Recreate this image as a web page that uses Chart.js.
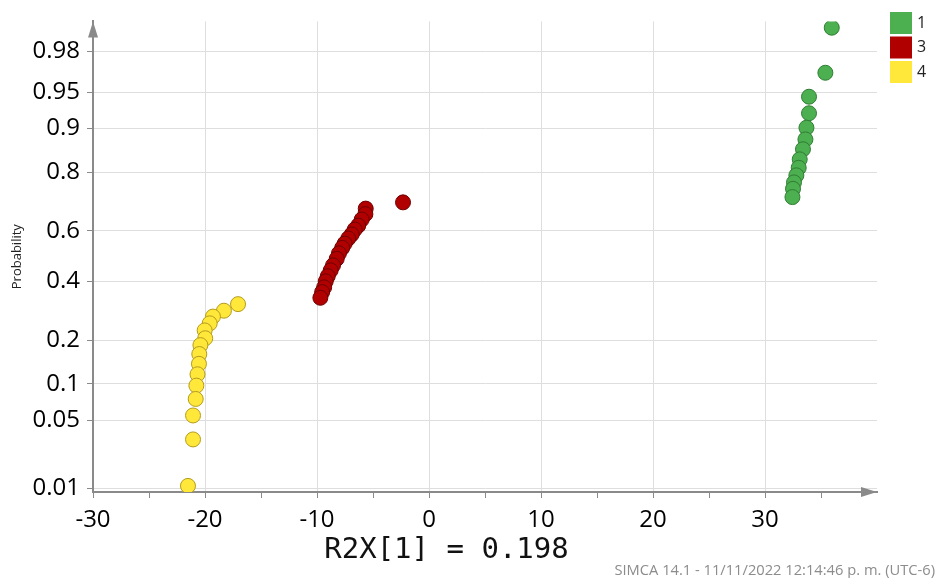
<!DOCTYPE html>
<html>
<head>
<meta charset="utf-8">
<script src="https://cdn.jsdelivr.net/npm/chart.js@4.4.1/dist/chart.umd.min.js"></script>
<style>
  body { margin: 0; background: #fff; }
  #wrap { width: 939px; height: 578px; }
</style>
</head>
<body>
<div id="wrap"><canvas id="probChart"></canvas></div>
<script>
// normal probability plot, groups 1 / 3 / 4
const groups = ['1', '3', '4'];

const xGroup1 = [35.96, 35.39, 33.93, 33.93, 33.70, 33.61, 33.39, 33.10, 33.01, 32.80, 32.59, 32.50, 32.45];
const pGroup1 = [0.989, 0.967, 0.945, 0.924, 0.901, 0.879, 0.858, 0.834, 0.812, 0.791, 0.770, 0.750, 0.723];

const xGroup3 = [-2.32, -5.65, -5.68, -6.01, -6.32, -6.63, -6.90, -7.21, -7.53, -7.75, -8.04, -8.24, -8.57, -8.78, -9.04, -9.22, -9.36, -9.54, -9.70];
const pGroup3 = [0.705, 0.683, 0.663, 0.643, 0.620, 0.605, 0.586, 0.570, 0.550, 0.533, 0.511, 0.489, 0.463, 0.443, 0.420, 0.400, 0.377, 0.359, 0.338];

const xGroup4 = [-17.05, -18.31, -19.29, -19.58, -20.03, -19.98, -20.41, -20.51, -20.54, -20.67, -20.77, -20.83, -21.07, -21.07, -21.52];
const pGroup4 = [0.315, 0.292, 0.272, 0.250, 0.228, 0.205, 0.186, 0.163, 0.140, 0.118, 0.097, 0.076, 0.055, 0.033, 0.0106];

const probTicks = [0.01, 0.05, 0.1, 0.2, 0.4, 0.6, 0.8, 0.9, 0.95, 0.98];
const probTickLabels = ['0.01', '0.05', '0.1', '0.2', '0.4', '0.6', '0.8', '0.9', '0.95', '0.98'];

const fillColors = ['#4caf50', '#b00000', '#ffe83a'];
const edgeColors = ['#2f7d32', '#6e0000', '#b39b1c'];

// inverse normal cdf (Acklam) - turns probabilities into the axis position
function probit(p) {
    const a = [-39.69683028665376, 220.9460984245205, -275.9285104469687, 138.3577518672690, -30.66479806614716, 2.506628277459239];
    const b = [-54.47609879822406, 161.5858368580409, -155.6989798598866, 66.80131188771720, -13.28068155288572];
    const c = [-0.007784894002430293, -0.3223964580411365, -2.400758277161838, -2.549732539343734, 4.374664141464968, 2.938163982698783];
    const d = [0.007784695709041462, 0.3224671290700398, 2.445134137142996, 3.754408661907416];
    const pl = 0.02425;
    if (p < pl) {
        const q = Math.sqrt(-2 * Math.log(p));
        return (((((c[0]*q + c[1])*q + c[2])*q + c[3])*q + c[4])*q + c[5]) / ((((d[0]*q + d[1])*q + d[2])*q + d[3])*q + 1);
    }
    if (p > 1 - pl) {
        const q = Math.sqrt(-2 * Math.log(1 - p));
        return -(((((c[0]*q + c[1])*q + c[2])*q + c[3])*q + c[4])*q + c[5]) / ((((d[0]*q + d[1])*q + d[2])*q + d[3])*q + 1);
    }
    const q = p - 0.5, r = q * q;
    return (((((a[0]*r + a[1])*r + a[2])*r + a[3])*r + a[4])*r + a[5])*q / (((((b[0]*r + b[1])*r + b[2])*r + b[3])*r + b[4])*r + 1);
}

function toPoints(xs, ps) {
    return xs.map((x, i) => ({x: x, y: probit(ps[i])}));
}

const xs = [xGroup1, xGroup3, xGroup4];
const ps = [pGroup1, pGroup3, pGroup4];

const datasets = groups.map((g, i) => ({
    label: g,
    data: toPoints(xs[i], ps[i]),
    backgroundColor: fillColors[i],
    borderColor: edgeColors[i],
    borderWidth: 1,
    pointRadius: 7.5,
    pointHoverRadius: 7.5
}));

// arrows on the axes, square legend at the right, SIMCA stamp
const extras = {
    id: 'extras',
    afterDraw(chart) {
        const c = chart.ctx;
        const area = chart.chartArea;
        c.save();
        c.fillStyle = '#8a8a8a';
        c.beginPath();
        c.moveTo(area.left, area.top);
        c.lineTo(area.left - 5, area.top + 16);
        c.lineTo(area.left + 5, area.top + 16);
        c.closePath();
        c.fill();
        c.beginPath();
        c.moveTo(area.right, area.bottom);
        c.lineTo(area.right - 16, area.bottom - 5);
        c.lineTo(area.right - 16, area.bottom + 5);
        c.closePath();
        c.fill();

        c.font = '16px "Open Sans"';
        c.textBaseline = 'middle';
        c.textAlign = 'left';
        chart.data.datasets.forEach((ds, i) => {
            const y = 12 + i * 24.5;
            c.fillStyle = ds.backgroundColor;
            c.fillRect(890, y, 22, 22);
            c.fillStyle = '#222';
            c.fillText(ds.label, 917, y + 11);
        });

        c.font = '14.7px "Open Sans"';
        c.fillStyle = '#8c8c8c';
        c.textAlign = 'right';
        c.textBaseline = 'alphabetic';
        c.fillText('SIMCA 14.1 - 11/11/2022 12:14:46 p. m. (UTC-6)', 935, 575);
        c.restore();
    }
};

const ctx = document.getElementById('probChart').getContext('2d');

new Chart(ctx, {
    type: 'scatter',
    data: { datasets: datasets },
    plugins: [extras],
    options: {
        responsive: true,
        maintainAspectRatio: false,
        animation: false,
        layout: {
            padding: { left: 16, right: 62, top: 20, bottom: 13 }
        },
        scales: {
            x: {
                type: 'linear',
                min: -30,
                max: 40,
                afterFit(scale) { scale.height = 44; },
                ticks: {
                    stepSize: 5,
                    color: '#000',
                    padding: 8,
                    font: { family: 'Open Sans', size: 24 },
                    callback: (v) => (v % 10 === 0 && v < 40) ? String(v) : ''
                },
                grid: {
                    color: (c) => (c.tick && c.tick.value % 10 === 0 && c.tick.value < 40) ? '#dedede' : 'rgba(0,0,0,0)',
                    tickColor: (c) => (c.tick && c.tick.value < 40) ? '#8a8a8a' : 'rgba(0,0,0,0)',
                    tickLength: 6
                },
                border: { color: '#8a8a8a', width: 2 }
            },
            y: {
                type: 'linear',
                min: probit(0.009),
                max: probit(0.9907),
                afterFit(scale) { scale.width = 77; },
                afterBuildTicks(scale) {
                    scale.ticks = probTicks.map(p => ({ value: probit(p) }));
                },
                ticks: {
                    color: '#000',
                    padding: 7,
                    font: { family: 'Open Sans', size: 24 },
                    callback: (v, i) => probTickLabels[i]
                },
                grid: {
                    color: '#dedede',
                    tickColor: '#8a8a8a',
                    tickLength: 6
                },
                border: { color: '#8a8a8a', width: 2 },
                title: {
                    display: true,
                    text: 'Probability',
                    color: '#222',
                    font: { family: 'Open Sans', size: 13 },
                    padding: { top: -7, bottom: 0 }
                }
            }
        },
        plugins: {
            legend: { display: false },
            tooltip: { enabled: false },
            title: {
                display: true,
                position: 'bottom',
                text: 'R2X[1] = 0.198',
                color: '#111',
                font: { family: 'DejaVu Sans Mono', size: 29, weight: 'normal', lineHeight: 1 },
                padding: 0
            }
        }
    }
});
</script>
</body>
</html>
